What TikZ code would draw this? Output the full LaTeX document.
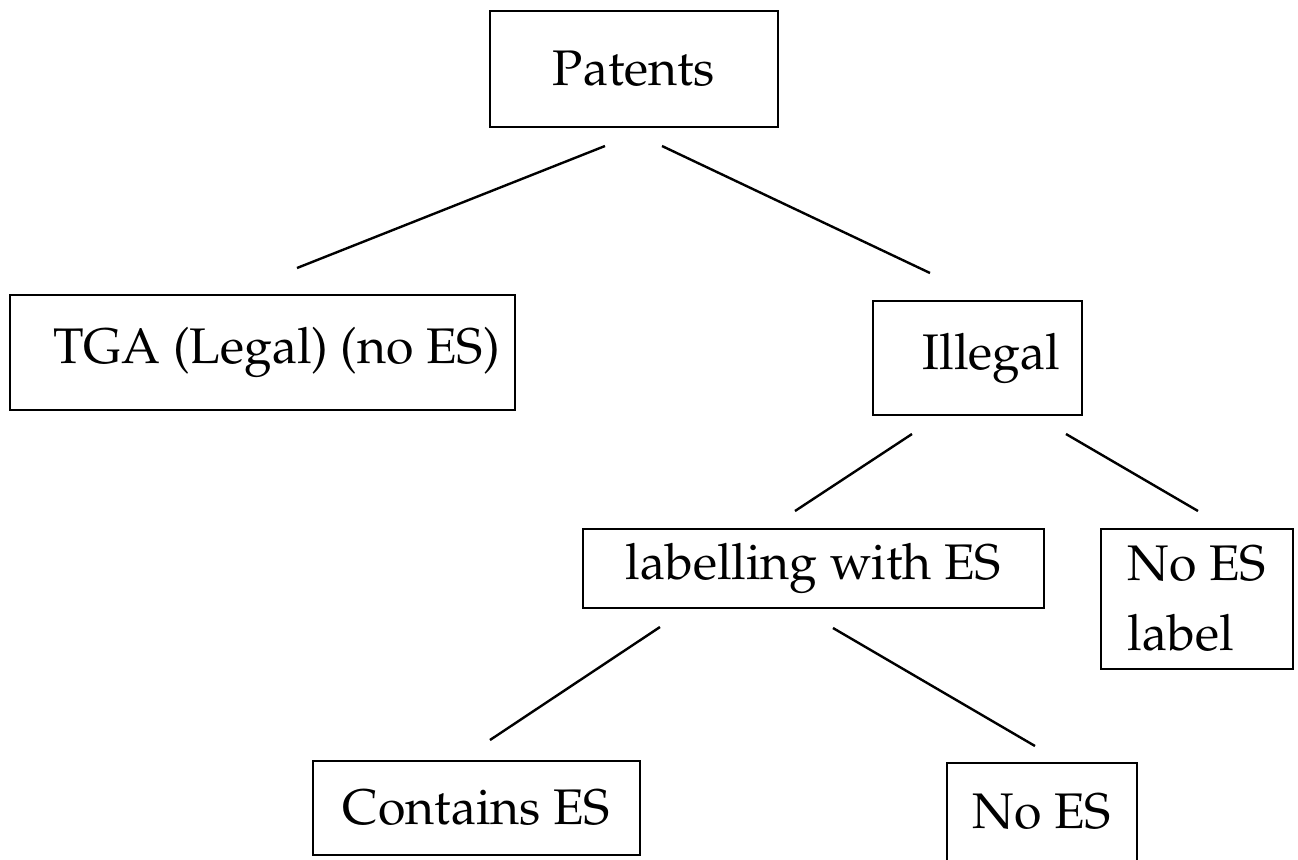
\documentclass[tikz,border=0pt]{standalone}
\usepackage[T1]{fontenc}
\usepackage{mathpazo}
\usepackage{tikz}
\usetikzlibrary{shapes,arrows}

\begin{document}
\begin{tikzpicture}[x=0.5pt, y=-0.5pt,
    block/.style ={rectangle, draw=black, line width=1pt, fill=white,
      inner sep=0pt, align=center, font=\fontsize{25}{35}\selectfont},
    line/.style ={draw, line width=1.2pt}]
    \useasboundingbox (0,0) rectangle (1298,859);
    % the boxes of the tree
    \node [block, minimum width=144pt, minimum height=58pt] (patents) at (634,69) {Patents};
    \node [block, minimum width=252.5pt, minimum height=57.5pt] (tga) at (262.5,352.5) {\hspace*{14pt}TGA (Legal) (no ES)};
    \node [block, minimum width=104.5pt, minimum height=57pt] (illegal) at (977.5,358) {\hspace*{14pt}Illegal};
    \node [block, minimum width=230.5pt, minimum height=39.5pt] (labelling) at (813.5,568.5) {labelling with ES};
    \node [block, minimum width=96pt, minimum height=70pt, align=left] (nolabel) at (1197,599) {No ES\\label};
    \node [block, minimum width=163.5pt, minimum height=47pt] (contains) at (476.5,808) {Contains ES};
    \node [block, minimum width=95pt, minimum height=49pt] (noes) at (1042,812) {No ES};
    % connecting nodes with paths
    \begin{scope}[every path/.style=line]
      \path ([shift={(-29,18)}]patents.south) -- ([shift={(34.5,-26)}]tga.north);
      \path ([shift={(28,18)}]patents.south) -- ([shift={(-47.5,-27)}]illegal.north);
      \path ([shift={(-65.5,18)}]illegal.south) -- ([shift={(-18.5,-17)}]labelling.north);
      \path ([shift={(88.5,18)}]illegal.south) -- ([shift={(1,-17)}]nolabel.north);
      \path ([shift={(-153.5,18)}]labelling.south) -- ([shift={(13.5,-20)}]contains.north);
      \path ([shift={(19.5,19)}]labelling.south) -- ([shift={(-7,-16)}]noes.north);
    \end{scope}
\end{tikzpicture}
\end{document}
